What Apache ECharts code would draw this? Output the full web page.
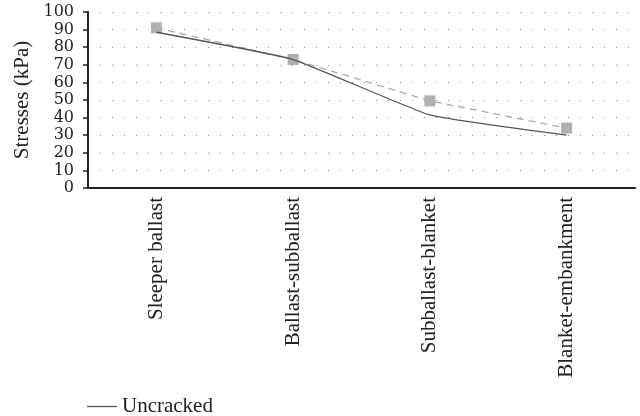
<!DOCTYPE html>
<html>
<head>
<meta charset="utf-8">
<script src="https://cdn.jsdelivr.net/npm/echarts@6/dist/echarts.min.js"></script>
<style>
    html, body { margin: 0; padding: 0; background: #fff; }
    #chart { width: 640px; height: 416px; }
</style>
</head>
<body>
<div id="chart"></div>
<script>
const categories = ["Sleeper ballast", "Ballast-subballast", "Subballast-blanket", "Blanket-embankment"];
const uncracked = [88.5, 73, 41.5, 30];
const cracked = [91, 73, 49.5, 34];

const font = "Liberation Serif";

const chart = echarts.init(document.getElementById("chart"));
chart.setOption({
    backgroundColor: "#fff",
    animation: false,
    textStyle: { fontFamily: font },
    grid: { left: 88, right: 5, top: 12, bottom: 228 },
    legend: {
        data: [{ name: "Uncracked", icon: "rect" }],
        left: 82,
        top: 391,
        itemWidth: 30,
        itemHeight: 1.3,
        itemGap: 10,
        textStyle: { fontFamily: font, fontSize: 21, color: "#222" }
    },
    xAxis: {
        type: "category",
        data: categories,
        axisLine: { lineStyle: { color: "#231f20", width: 2 } },
        axisTick: { show: false },
        axisLabel: {
            rotate: 90,
            margin: 9,
            fontFamily: font,
            fontSize: 21,
            color: "#222"
        }
    },
    yAxis: {
        type: "value",
        min: 0,
        max: 100,
        interval: 10,
        name: "Stresses (kPa)",
        nameLocation: "middle",
        nameGap: 48,
        nameTextStyle: { fontFamily: font, fontSize: 21, color: "#222" },
        axisLine: { show: true, lineStyle: { color: "#231f20", width: 2 } },
        axisTick: { show: true, length: 5, lineStyle: { color: "#231f20", width: 1.5 } },
        axisLabel: {
            fontFamily: "DejaVu Serif",
            fontSize: 16,
            color: "#222",
            margin: 14,
            showMinLabel: true,
            showMaxLabel: true
        },
        splitLine: {
            show: true,
            lineStyle: { color: "#888", width: 1, type: [1, 11] }
        }
    },
    series: [
        {
            name: "Uncracked",
            type: "line",
            data: uncracked,
            smooth: 0.12,
            showSymbol: false,
            symbol: "none",
            lineStyle: { color: "#555", width: 1.3 },
            itemStyle: { color: "#555" },
            z: 3
        },
        {
            name: "Cracked",
            type: "line",
            data: cracked,
            symbol: "rect",
            symbolSize: 11,
            lineStyle: { color: "#aaa", width: 1.3, type: [7, 5] },
            itemStyle: { color: "#b0b0b0" },
            z: 2
        }
    ]
});
</script>
</body>
</html>
